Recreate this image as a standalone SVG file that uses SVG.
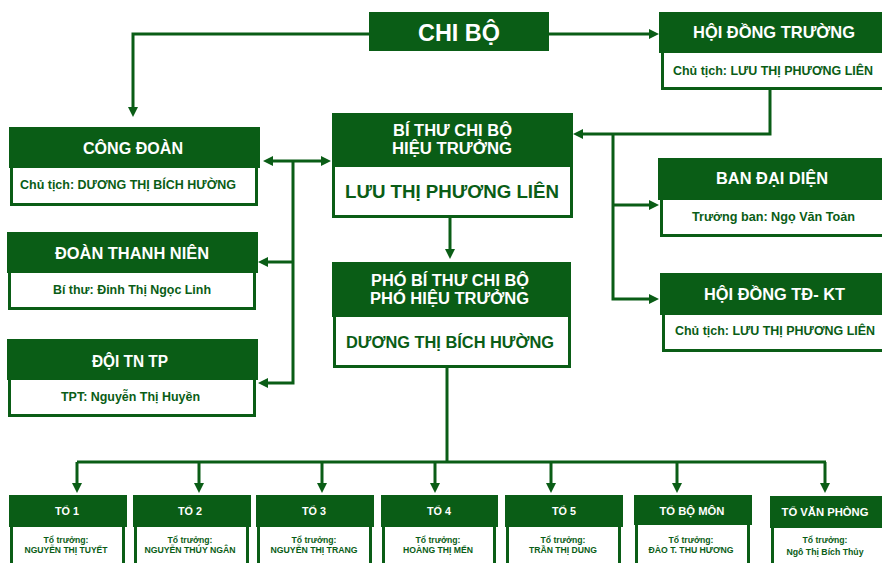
<svg xmlns="http://www.w3.org/2000/svg" width="882" height="563" viewBox="0 0 882 563">
<defs>
<style>
.hd{fill:#0A5D16}
.bd{fill:#fff;stroke:#0A5D16;stroke-width:3}
.wt{fill:#fff;font-family:"Liberation Sans",Arial,sans-serif;font-weight:bold;text-anchor:middle}
.gt{fill:#0A5D16;font-family:"Liberation Sans",Arial,sans-serif;font-weight:bold;text-anchor:middle}
.ln{fill:none;stroke:#0A5D16;stroke-width:3}
</style>
<marker id="ah" viewBox="0 0 10 10" refX="5" refY="5" markerWidth="10" markerHeight="10" markerUnits="userSpaceOnUse" orient="auto-start-reverse">
<path d="M0,0 L10,5 L0,10 z" fill="#0A5D16"/>
</marker>
</defs>
<rect width="882" height="563" fill="#fff"/>

<g id="connectors">
<path class="ln" d="M369 34 H133 V112" marker-end="url(#ah)"/>
<path class="ln" d="M549 34 H654" marker-end="url(#ah)"/>
<path class="ln" d="M770 90 V134 H578" marker-end="url(#ah)"/>
<path class="ln" d="M268 161 H326" marker-start="url(#ah)" marker-end="url(#ah)"/>
<path class="ln" d="M293 161 V383 H263" marker-end="url(#ah)"/>
<path class="ln" d="M293 262 H263" marker-end="url(#ah)"/>
<path class="ln" d="M450 218 V254" marker-end="url(#ah)"/>
<path class="ln" d="M613 134 V299 H654" marker-end="url(#ah)"/>
<path class="ln" d="M613 205 H654" marker-end="url(#ah)"/>
<path class="ln" d="M447 368 V462"/>
<path class="ln" d="M77 462 H826"/>
<path class="ln" d="M77 462 V488" marker-end="url(#ah)"/>
<path class="ln" d="M199 462 V488" marker-end="url(#ah)"/>
<path class="ln" d="M322 462 V488" marker-end="url(#ah)"/>
<path class="ln" d="M435 462 V488" marker-end="url(#ah)"/>
<path class="ln" d="M551 462 V488" marker-end="url(#ah)"/>
<path class="ln" d="M677 462 V488" marker-end="url(#ah)"/>
<path class="ln" d="M825 462 V488" marker-end="url(#ah)"/>
</g>

<g id="chibo">
<rect class="hd" x="369" y="12" width="180" height="39"/>
<text class="wt" x="459" y="41" font-size="24" textLength="82" lengthAdjust="spacingAndGlyphs">CHI BỘ</text>
</g>

<g id="hoidongtruong">
<rect class="bd" x="662.5" y="50" width="230" height="38.5"/>
<rect class="hd" x="659" y="12" width="230" height="41"/>
<text class="wt" x="774" y="38" font-size="17" textLength="162" lengthAdjust="spacingAndGlyphs">HỘI ĐỒNG TRƯỜNG</text>
<text class="gt" x="773" y="75" font-size="12" textLength="200" lengthAdjust="spacingAndGlyphs">Chủ tịch: LƯU THỊ PHƯƠNG LIÊN</text>
</g>

<g id="congdoan">
<rect class="bd" x="11.5" y="165" width="245" height="39.5"/>
<rect class="hd" x="9" y="127" width="251" height="41"/>
<text class="wt" x="133" y="154" font-size="16" textLength="100" lengthAdjust="spacingAndGlyphs">CÔNG ĐOÀN</text>
<text class="gt" x="20" y="189" font-size="12" text-anchor="start" style="text-anchor:start" textLength="216" lengthAdjust="spacingAndGlyphs">Chủ tịch: DƯƠNG THỊ BÍCH HƯỜNG</text>
</g>

<g id="bithu">
<rect class="bd" x="333.5" y="164" width="238" height="52.5"/>
<rect class="hd" x="332" y="113" width="241" height="54"/>
<text class="wt" x="452.5" y="136" font-size="16" textLength="119" lengthAdjust="spacingAndGlyphs">BÍ THƯ CHI BỘ</text>
<text class="wt" x="452" y="154" font-size="16" textLength="120" lengthAdjust="spacingAndGlyphs">HIỆU TRƯỞNG</text>
<text class="gt" x="452" y="198" font-size="18" textLength="214" lengthAdjust="spacingAndGlyphs">LƯU THỊ PHƯƠNG LIÊN</text>
</g>

<g id="phobithu">
<rect class="bd" x="334.5" y="314" width="235" height="52.5"/>
<rect class="hd" x="332" y="262" width="239" height="55"/>
<text class="wt" x="450" y="286" font-size="16" textLength="158" lengthAdjust="spacingAndGlyphs">PHÓ BÍ THƯ CHI BỘ</text>
<text class="wt" x="449.5" y="304" font-size="16" textLength="159" lengthAdjust="spacingAndGlyphs">PHÓ HIỆU TRƯỞNG</text>
<text class="gt" x="450" y="348" font-size="16.5" textLength="208" lengthAdjust="spacingAndGlyphs">DƯƠNG THỊ BÍCH HƯỜNG</text>
</g>

<g id="doanthanhnien">
<rect class="bd" x="9.5" y="270" width="245" height="38.5"/>
<rect class="hd" x="7" y="232" width="251" height="41"/>
<text class="wt" x="132" y="259" font-size="16" textLength="154" lengthAdjust="spacingAndGlyphs">ĐOÀN THANH NIÊN</text>
<text class="gt" x="132" y="294" font-size="12" textLength="158" lengthAdjust="spacingAndGlyphs">Bí thư: Đinh Thị Ngọc Linh</text>
</g>

<g id="doitntp">
<rect class="bd" x="9.5" y="377" width="245" height="38.5"/>
<rect class="hd" x="7" y="339" width="251" height="41"/>
<text class="wt" x="130" y="367" font-size="16" textLength="76" lengthAdjust="spacingAndGlyphs">ĐỘI TN TP</text>
<text class="gt" x="130.5" y="401" font-size="12" textLength="139" lengthAdjust="spacingAndGlyphs">TPT: Nguyễn Thị Huyền</text>
</g>

<g id="bandaidien">
<rect class="bd" x="661.5" y="197" width="230" height="38.5"/>
<rect class="hd" x="658" y="158" width="230" height="42"/>
<text class="wt" x="772" y="184" font-size="17" textLength="112" lengthAdjust="spacingAndGlyphs">BAN ĐẠI DIỆN</text>
<text class="gt" x="773.5" y="221" font-size="12" textLength="163" lengthAdjust="spacingAndGlyphs">Trưởng ban:  Ngọ Văn Toản</text>
</g>

<g id="hoidongtdkt">
<rect class="bd" x="663.5" y="312" width="230" height="38.5"/>
<rect class="hd" x="660" y="273" width="230" height="42"/>
<text class="wt" x="774.5" y="300" font-size="17" textLength="141" lengthAdjust="spacingAndGlyphs">HỘI ĐỒNG TĐ- KT</text>
<text class="gt" x="775" y="335" font-size="12" textLength="200" lengthAdjust="spacingAndGlyphs">Chủ tịch: LƯU THỊ PHƯƠNG LIÊN</text>
</g>

<g id="to1">
<rect class="bd" x="11.5" y="524" width="112" height="50"/>
<rect class="hd" x="9" y="495" width="118" height="32"/>
<text class="wt" x="67" y="515" font-size="11" textLength="24" lengthAdjust="spacingAndGlyphs">TỔ 1</text>
<text class="gt" x="66" y="543" font-size="9" textLength="45" lengthAdjust="spacingAndGlyphs">Tổ trưởng:</text>
<text class="gt" x="66" y="553" font-size="8.5" textLength="83" lengthAdjust="spacingAndGlyphs">NGUYỄN  THỊ TUYẾT</text>
</g>

<g id="to2">
<rect class="bd" x="135.5" y="524" width="112" height="50"/>
<rect class="hd" x="133" y="495" width="118" height="32"/>
<text class="wt" x="190" y="515" font-size="11" textLength="24" lengthAdjust="spacingAndGlyphs">TỔ 2</text>
<text class="gt" x="190" y="543" font-size="9" textLength="45" lengthAdjust="spacingAndGlyphs">Tổ trưởng:</text>
<text class="gt" x="190" y="553" font-size="8.5" textLength="91" lengthAdjust="spacingAndGlyphs">NGUYỄN  THÚY NGÂN</text>
</g>

<g id="to3">
<rect class="bd" x="258.5" y="524" width="112" height="50"/>
<rect class="hd" x="256" y="495" width="118" height="32"/>
<text class="wt" x="314" y="515" font-size="11" textLength="24" lengthAdjust="spacingAndGlyphs">TỔ 3</text>
<text class="gt" x="314" y="543" font-size="9" textLength="45" lengthAdjust="spacingAndGlyphs">Tổ trưởng:</text>
<text class="gt" x="314" y="553" font-size="8.5" textLength="87" lengthAdjust="spacingAndGlyphs">NGUYỄN  THỊ TRANG</text>
</g>

<g id="to4">
<rect class="bd" x="383.5" y="524" width="111" height="50"/>
<rect class="hd" x="381" y="495" width="117" height="32"/>
<text class="wt" x="439" y="515" font-size="11" textLength="24" lengthAdjust="spacingAndGlyphs">TỔ 4</text>
<text class="gt" x="438" y="543" font-size="9" textLength="45" lengthAdjust="spacingAndGlyphs">Tổ trưởng:</text>
<text class="gt" x="438" y="553" font-size="8.5" textLength="70" lengthAdjust="spacingAndGlyphs">HOÀNG THỊ MẾN</text>
</g>

<g id="to5">
<rect class="bd" x="507.5" y="524" width="112" height="50"/>
<rect class="hd" x="505" y="495" width="118" height="32"/>
<text class="wt" x="564" y="515" font-size="11" textLength="24" lengthAdjust="spacingAndGlyphs">TỔ 5</text>
<text class="gt" x="563" y="543" font-size="9" textLength="45" lengthAdjust="spacingAndGlyphs">Tổ trưởng:</text>
<text class="gt" x="563" y="553" font-size="8.5" textLength="68" lengthAdjust="spacingAndGlyphs">TRẦN THỊ DUNG</text>
</g>

<g id="tobomon">
<rect class="bd" x="636.5" y="522" width="112" height="52"/>
<rect class="hd" x="634" y="495" width="118" height="30"/>
<text class="wt" x="692" y="515" font-size="11" textLength="65" lengthAdjust="spacingAndGlyphs">TỔ BỘ MÔN</text>
<text class="gt" x="691" y="543" font-size="9" textLength="45" lengthAdjust="spacingAndGlyphs">Tổ trưởng:</text>
<text class="gt" x="691" y="553" font-size="8.5" textLength="85" lengthAdjust="spacingAndGlyphs">ĐÀO T. THU HƯƠNG</text>
</g>

<g id="tovanphong">
<rect class="bd" x="772.5" y="525" width="120" height="50"/>
<rect class="hd" x="770" y="496" width="120" height="32"/>
<text class="wt" x="825" y="516" font-size="11.5" textLength="87" lengthAdjust="spacingAndGlyphs">TỔ VĂN PHÒNG</text>
<text class="gt" x="825" y="543" font-size="9" textLength="45" lengthAdjust="spacingAndGlyphs">Tổ trưởng:</text>
<text class="gt" x="825" y="555" font-size="8.5" textLength="77" lengthAdjust="spacingAndGlyphs">Ngô Thị Bích  Thủy</text>
</g>
</svg>
